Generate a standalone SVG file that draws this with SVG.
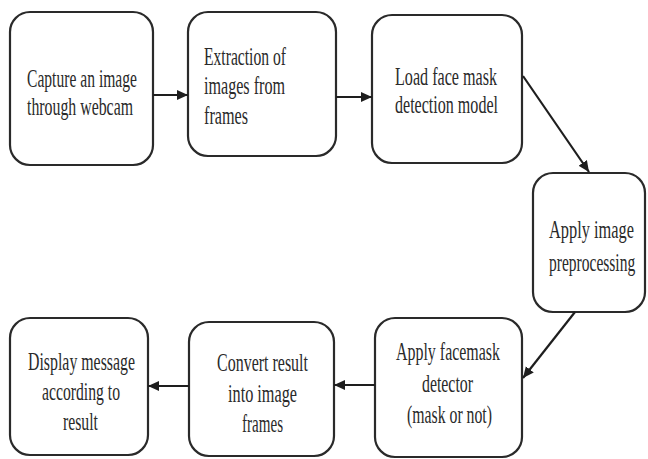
<svg xmlns="http://www.w3.org/2000/svg" width="648" height="459" viewBox="0 0 648 459">
<style>
.box{fill:#fff;stroke:#2a2a2a;stroke-width:2.2}
.t{font-family:"Liberation Serif","Times New Roman",serif;font-size:26px;fill:#2a2a2a}
.e{fill:none;stroke:#1e1e1e;stroke-width:2.2}
</style>
<defs>
<marker id="ah" markerUnits="userSpaceOnUse" markerWidth="13" markerHeight="11" refX="11" refY="5.5" orient="auto">
<path d="M0,0.5 L11,5.5 L0,10.5 Z" fill="#1e1e1e"/>
</marker>
</defs>
<rect width="648" height="459" fill="#fff"/>
<g id="n1">
<rect class="box" x="10" y="12" width="143" height="153" rx="20"/>
<text class="t" x="27" y="87" textLength="110" lengthAdjust="spacingAndGlyphs">Capture an image</text>
<text class="t" x="27" y="115" textLength="106" lengthAdjust="spacingAndGlyphs">through webcam</text>
</g>
<g id="n2">
<rect class="box" x="188" y="12" width="148" height="144" rx="20"/>
<text class="t" x="204" y="65" textLength="82" lengthAdjust="spacingAndGlyphs">Extraction of</text>
<text class="t" x="204" y="94" textLength="81" lengthAdjust="spacingAndGlyphs">images from</text>
<text class="t" x="204" y="124" textLength="44" lengthAdjust="spacingAndGlyphs">frames</text>
</g>
<g id="n3">
<rect class="box" x="372" y="15" width="150" height="148" rx="20"/>
<text class="t" x="395" y="85" textLength="102" lengthAdjust="spacingAndGlyphs">Load face mask</text>
<text class="t" x="395" y="113" textLength="103" lengthAdjust="spacingAndGlyphs">detection model</text>
</g>
<g id="n4">
<rect class="box" x="533" y="173" width="112" height="139" rx="20"/>
<text class="t" transform="translate(549,238) scale(0.62,1)" textLength="137" lengthAdjust="spacingAndGlyphs">Apply image</text>
<text class="t" transform="translate(549,271) scale(0.62,1)" textLength="139" lengthAdjust="spacingAndGlyphs">preprocessing</text>
</g>
<g id="n5">
<rect class="box" x="375" y="318" width="147" height="139" rx="20"/>
<text class="t" x="396" y="360" textLength="104" lengthAdjust="spacingAndGlyphs">Apply facemask</text>
<text class="t" x="422" y="392" textLength="51" lengthAdjust="spacingAndGlyphs">detector</text>
<text class="t" x="407" y="423" textLength="85" lengthAdjust="spacingAndGlyphs">(mask or not)</text>
</g>
<g id="n6">
<rect class="box" x="189" y="322" width="145" height="134" rx="20"/>
<text class="t" x="217" y="371" textLength="91" lengthAdjust="spacingAndGlyphs">Convert result</text>
<text class="t" x="228" y="402" textLength="69" lengthAdjust="spacingAndGlyphs">into image</text>
<text class="t" x="242" y="432" textLength="41" lengthAdjust="spacingAndGlyphs">frames</text>
</g>
<g id="n7">
<rect class="box" x="10" y="318" width="138" height="137" rx="20"/>
<text class="t" x="28" y="370" textLength="107" lengthAdjust="spacingAndGlyphs">Display message</text>
<text class="t" x="42" y="400" textLength="78" lengthAdjust="spacingAndGlyphs">according to</text>
<text class="t" x="63" y="430" textLength="35" lengthAdjust="spacingAndGlyphs">result</text>
</g>
<g id="connectors">
<line class="e" x1="153" y1="95" x2="188" y2="95" marker-end="url(#ah)"/>
<line class="e" x1="336" y1="97" x2="372" y2="97" marker-end="url(#ah)"/>
<line class="e" x1="523" y1="76" x2="589" y2="172" marker-end="url(#ah)"/>
<line class="e" x1="575" y1="312" x2="523" y2="378" marker-end="url(#ah)"/>
<line class="e" x1="375" y1="385" x2="334" y2="385" marker-end="url(#ah)"/>
<line class="e" x1="189" y1="386" x2="148" y2="386" marker-end="url(#ah)"/>
</g>
</svg>
